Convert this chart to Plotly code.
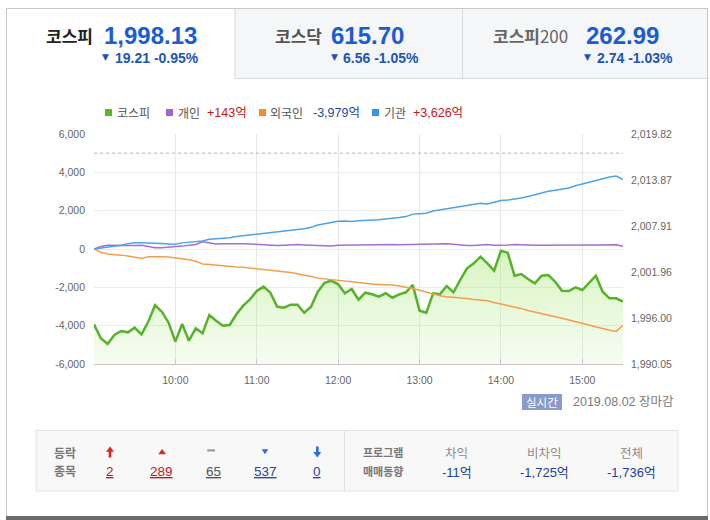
import plotly.graph_objects as go
import pandas as pd

# ---------------- data ----------------
times = pd.date_range("2019-08-02 09:00", "2019-08-02 15:30", freq="5min")

kospi = [1995.19, 1993.38, 1992.64, 1993.80, 1994.32, 1994.15, 1994.75, 1993.89, 1995.52, 1997.65,
         1996.82, 1995.40, 1992.94, 1995.23, 1993.07, 1994.67, 1994.02, 1996.39, 1995.65, 1995.01,
         1995.10, 1996.48, 1997.60, 1998.42, 1999.50, 2000.06, 1999.28, 1997.47, 1997.34, 1997.73,
         1997.73, 1996.69, 1997.47, 1999.41, 2000.57, 2000.83, 2000.37, 1999.20, 1999.76, 1998.37,
         1999.28, 1999.07, 1998.76, 1999.20, 1998.63, 1999.07, 1999.33, 2000.28, 1996.95, 1996.69,
         1999.20, 1999.07, 2000.15, 1999.33, 2000.92, 2002.44, 2003.08, 2003.94, 2003.08, 2002.13,
         2004.71, 2004.46, 2001.48, 2001.70, 2001.05, 2000.50, 2001.48, 2001.57, 2000.70, 1999.54,
         1999.50, 1999.98, 1999.63, 2000.57, 2001.48, 1999.41, 1998.55, 1998.55, 1998.13]

individual = [0, 130, 200, 190, 170, 160, 180, 200, 130, 60,
              70, 90, 110, 150, 200, 240, 380, 300, 260, 270,
              285, 290, 280, 260, 240, 210, 200, 180, 200, 220,
              230, 210, 190, 160, 140, 150, 190, 200, 210, 200,
              210, 225, 240, 245, 240, 225, 235, 240, 260, 265,
              270, 275, 270, 250, 215, 180, 185, 210, 240, 200,
              195, 210, 230, 235, 210, 200, 205, 220, 215, 210,
              215, 225, 225, 215, 205, 200, 215, 225, 143]

foreign = [0, -170, -260, -280, -320, -370, -440, -490, -410, -400,
           -410, -420, -460, -500, -560, -640, -780, -810, -850, -880,
           -930, -940, -950, -990, -1030, -1060, -1090, -1140, -1200, -1230,
           -1290, -1350, -1440, -1520, -1560, -1610, -1660, -1690, -1740, -1780,
           -1810, -1830, -1850, -1860, -1880, -1930, -1980, -2060, -2150, -2260,
           -2330, -2440, -2490, -2510, -2550, -2580, -2630, -2670, -2700, -2790,
           -2870, -2920, -3030, -3110, -3210, -3280, -3370, -3440, -3530, -3610,
           -3700, -3790, -3880, -3970, -4070, -4170, -4240, -4300, -3979]

institution = [0, 45, 95, 150, 200, 280, 330, 330, 325, 310,
               290, 265, 245, 320, 340, 370, 415, 505, 525, 555,
               590, 650, 690, 715, 775, 820, 855, 890, 930, 975,
               1015, 1060, 1130, 1250, 1320, 1390, 1445, 1460, 1440, 1470,
               1480, 1500, 1520, 1560, 1590, 1640, 1690, 1820, 1845, 1865,
               1980, 2040, 2100, 2140, 2190, 2280, 2350, 2380, 2350, 2450,
               2525, 2555, 2595, 2660, 2740, 2840, 2930, 3010, 3060, 3105,
               3180, 3300, 3390, 3470, 3560, 3680, 3760, 3810, 3626]

prev_close = 2017.34
left_ticks = [-6000, -4000, -2000, 0, 2000, 4000, 6000]
right_ticks = [1990.05, 1996.00, 2001.96, 2007.91, 2013.87, 2019.82]
hour_ticks = ["09:00", "10:00", "11:00", "12:00", "13:00", "14:00", "15:00"]

tab_names = ["코스피", "코스닥", "<b>코스피</b>200"]
tab_values = ["1,998.13", "615.70", "262.99"]
tab_changes = ["19.21 -0.95%", "6.56 -1.05%", "2.74 -1.03%"]

legend_names = ["코스피", "개인", "외국인", "기관"]
legend_values = ["", "+143억", "-3,979억", "+3,626억"]

updown_counts = ["2", "289", "65", "537", "0"]
program_labels = ["차익", "비차익", "전체"]
program_values = ["-11억", "-1,725억", "-1,736억"]

# ---------------- styling helpers ----------------
W, H = 710, 520
L, R, T, B = 94, 87, 134, 156
PW, PH = W - L - R, H - T - B


def X(px):
    return (px - L) / PW


def Y(py):
    return (H - B - py) / PH


FONT = "Liberation Sans, Noto Sans CJK KR, sans-serif"
KFONT = "Noto Sans CJK KR, Liberation Sans, sans-serif"

C_GREEN = "#55b22a"
C_PURPLE = "#a370d0"
C_ORANGE = "#f0a04c"
C_BLUE = "#4ea3e6"
C_RED = "#c4171d"
C_NAVY = "#1f47a3"

fig = go.Figure()

# KOSPI (right axis) : baseline + gradient filled line
fig.add_trace(go.Scatter(x=times, y=[right_ticks[0]] * len(times), mode="lines",
                         line=dict(width=0), hoverinfo="skip", showlegend=False, yaxis="y"))
fig.add_trace(go.Scatter(x=times, y=kospi, mode="lines", name="코스피",
                         line=dict(color=C_GREEN, width=2.5), fill="tonexty",
                         fillgradient=dict(type="vertical",
                                           colorscale=[[0, "rgba(170,232,120,0.10)"],
                                                       [1, "rgba(170,232,120,0.45)"]],
                                           start=right_ticks[0], stop=max(kospi)),
                         showlegend=False, yaxis="y"))

# investor flows (left axis)
fig.add_trace(go.Scatter(x=times, y=foreign, mode="lines", name="외국인",
                         line=dict(color=C_ORANGE, width=1.5), showlegend=False, yaxis="y2"))
fig.add_trace(go.Scatter(x=times, y=individual, mode="lines", name="개인",
                         line=dict(color=C_PURPLE, width=1.5), showlegend=False, yaxis="y2"))
fig.add_trace(go.Scatter(x=times, y=institution, mode="lines", name="기관",
                         line=dict(color=C_BLUE, width=1.5), showlegend=False, yaxis="y2"))

shapes = []
annotations = []


def rect(x0, y0, x1, y1, fill=None, line=None, lw=1):
    shapes.append(dict(type="rect", xref="paper", yref="paper",
                       x0=X(x0), x1=X(x1), y0=Y(y0), y1=Y(y1),
                       fillcolor=fill or "rgba(0,0,0,0)",
                       line=dict(color=line or "rgba(0,0,0,0)", width=lw if line else 0),
                       layer="below"))


def hline(x0, x1, y, color, lw=1, layer="below"):
    shapes.append(dict(type="line", xref="paper", yref="paper", x0=X(x0), x1=X(x1),
                       y0=Y(y), y1=Y(y), line=dict(color=color, width=lw), layer=layer))


def vline(x, y0, y1, color, lw=1, layer="below"):
    shapes.append(dict(type="line", xref="paper", yref="paper", x0=X(x), x1=X(x),
                       y0=Y(y0), y1=Y(y1), line=dict(color=color, width=lw), layer=layer))


def path(points, color):
    d = "M " + " L ".join(f"{X(px):.5f},{Y(py):.5f}" for px, py in points) + " Z"
    shapes.append(dict(type="path", xref="paper", yref="paper", path=d,
                       fillcolor=color, line=dict(color=color, width=0), layer="above"))


def text(x, y, s, size=12, color="#333", anchor="left", family=FONT):
    annotations.append(dict(xref="paper", yref="paper", x=X(x), y=Y(y), text=s,
                            showarrow=False, xanchor=anchor, yanchor="middle",
                            borderpad=0, font=dict(size=size, color=color, family=family)))


# ---- outer frame and tabs ----
rect(235, 8.5, 462.5, 78.5, fill="#f5f6f8", line="#d6d9de")
rect(462.5, 8.5, 707.5, 78.5, fill="#f5f6f8", line="#d6d9de")
hline(6.5, 707.5, 8.5, "#c8c8c8")
vline(6.5, 8, 517, "#c8c8c8")
vline(707.5, 8, 517, "#c8c8c8")
hline(6, 708, 518, "#6b6b6b", lw=4)

tab_name_x = [45, 274, 492]
tab_val_x = [103, 330, 585]
tab_tri_x = [105.5, 334, 587.5]
tab_chg_x = [114, 342, 596]
tab_name_col = ["#222222", "#555555", "#666666"]
for i in range(3):
    nm = tab_names[i] if "<b>" in tab_names[i] else f"<b>{tab_names[i]}</b>"
    text(tab_name_x[i], 35, nm, size=17, color=tab_name_col[i], family=KFONT)
    text(tab_val_x[i], 35.5, f"<b>{tab_values[i]}</b>", size=24, color="#1a5dcf")
    text(tab_tri_x[i], 56.5, "▼", size=9, color="#1d55b5", anchor="center", family="DejaVu Sans")
    text(tab_chg_x[i], 57.5, f"<b>{tab_changes[i]}</b>", size=14, color="#1d55b5")

# ---- custom legend ----
leg_sq_x = [105, 166, 259, 372]
leg_sq_col = ["#56bd1e", "#a064d0", "#f58c28", "#2f96ea"]
leg_name_x = [116, 177, 269, 383]
leg_val_x = [None, 206, 312, 412]
leg_val_col = [None, C_RED, C_NAVY, C_RED]
for i in range(4):
    rect(leg_sq_x[i], 109, leg_sq_x[i] + 7, 116, fill=leg_sq_col[i])
    text(leg_name_x[i], 112.5, legend_names[i], size=12, color="#555555", family=KFONT)
    if legend_values[i]:
        text(leg_val_x[i], 112.5, legend_values[i], size=12.5, color=leg_val_col[i])

# ---- previous close dotted line ----
shapes.append(dict(type="line", xref="paper", yref="y", x0=0, x1=1, y0=prev_close, y1=prev_close,
                   line=dict(color="#b4b4b4", width=1, dash="dot"), layer="above"))

# ---- realtime badge & date ----
rect(522, 394, 562, 410, fill="#8a9bcb")
text(542, 402, "실시간", size=11.5, color="#ffffff", anchor="center", family=KFONT)
text(572, 402, "2019.08.02 장마감", size=12.5, color="#7a7a7a")

# ---- summary box ----
rect(36, 430.5, 678, 491, fill="#f8f8f9", line="#e2e2e2")
vline(344.5, 430.5, 491, "#e2e2e2")
text(53, 452, "<b>등락</b>", size=12, color="#777777", family=KFONT)
text(53, 470.5, "<b>종목</b>", size=12, color="#777777", family=KFONT)

# icons
path([(106, 451.7), (110, 446.5), (114, 451.7), (111.3, 451.7), (111.3, 457.5),
      (108.7, 457.5), (108.7, 451.7)], "#e0251b")
path([(158.3, 454.2), (162.1, 449), (166, 454.2)], "#e0251b")
rect(207.3, 449.3, 215, 451.5, fill="#9a9a9a")
path([(261.7, 449.3), (268.3, 449.3), (265, 454.3)], "#2a6de0")
path([(313.3, 452), (316, 452), (316, 446.5), (318.6, 446.5), (318.6, 452),
      (321.3, 452), (317.3, 457.5)], "#2a6de0")

count_x = [110, 161.5, 213.5, 265, 317]
count_col = [C_RED, C_RED, "#555555", C_NAVY, C_NAVY]
for i in range(5):
    text(count_x[i], 471, f"<u>{updown_counts[i]}</u>", size=13.5, color=count_col[i], anchor="center")

text(362, 452, "<b>프로그램</b>", size=11, color="#777777", family=KFONT)
text(362, 470.5, "<b>매매동향</b>", size=11, color="#777777", family=KFONT)
prog_x = [456.7, 544, 631]
for i in range(3):
    text(prog_x[i], 452, program_labels[i], size=12.5, color="#8a8a8a", anchor="center", family=KFONT)
    text(prog_x[i], 472, program_values[i], size=13, color="#1f3f9a", anchor="center")

fig.update_layout(
    width=W, height=H,
    margin=dict(l=L, r=R, t=T, b=B, pad=0),
    paper_bgcolor="white", plot_bgcolor="white",
    font=dict(family=FONT, size=10.5, color="#666666"),
    showlegend=False,
    hovermode=False,
    shapes=shapes,
    annotations=annotations,
    xaxis=dict(type="date", range=[times[0], times[-1]],
               tickvals=[f"2019-08-02 {h}" for h in hour_ticks],
               ticktext=[""] + hour_ticks[1:],
               showgrid=True, gridcolor="#e8e8e8", gridwidth=1,
               showline=True, linecolor="#c8c8c8", linewidth=1,
               ticks="inside", ticklen=5, tickcolor="#c8c8c8",
               ticklabelstandoff=6, zeroline=False,
               tickfont=dict(size=10.5, color="#666666")),
    yaxis=dict(side="right", range=[right_ticks[0], right_ticks[-1]],
               tickvals=right_ticks, ticktext=[f"{v:,.2f}" for v in right_ticks],
               showgrid=False, zeroline=False, showline=False, ticks="",
               ticklabelstandoff=7, tickfont=dict(size=10.5, color="#666666")),
    yaxis2=dict(side="left", overlaying="y", range=[left_ticks[0], left_ticks[-1]],
                tickvals=left_ticks, ticktext=[f"{v:,}" for v in left_ticks],
                showgrid=True, gridcolor="#ececec", gridwidth=1,
                zeroline=False, showline=False, ticks="",
                ticklabelstandoff=8, tickfont=dict(size=10.5, color="#666666")),
)

fig.write_html("out.html")
